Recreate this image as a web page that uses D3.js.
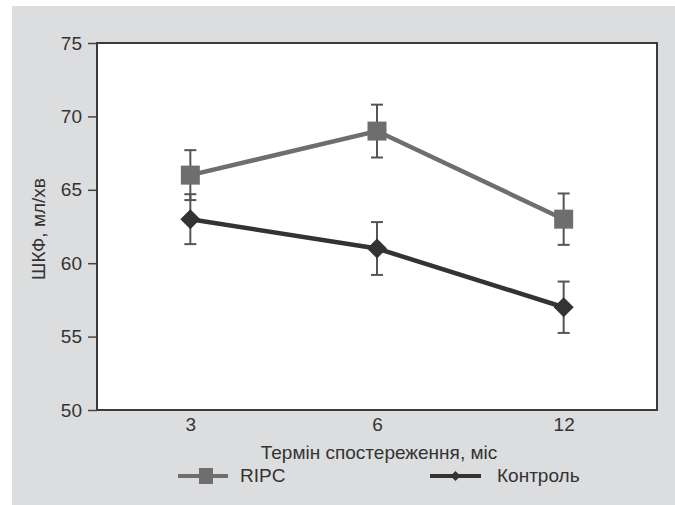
<!DOCTYPE html>
<html>
<head>
<meta charset="utf-8">
<script src="https://cdn.jsdelivr.net/npm/d3@7"></script>
<style>
  body { margin: 0; background: #fff; }
  svg { display: block; font-family: "Liberation Sans", Arial, sans-serif; }
</style>
</head>
<body>
<div id="vis"></div>
<script>
const months = ["3", "6", "12"];
const ripc = [66, 69, 63];
const ripcErr = [1.7, 1.8, 1.75];
const control = [63, 61, 57];
const controlErr = [1.7, 1.8, 1.75];
const yTicks = [50, 55, 60, 65, 70, 75];

const W = 675, H = 505;
const margin = { top: 43, right: 18, bottom: 95, left: 97 };
const width = W - margin.left - margin.right;
const height = H - margin.top - margin.bottom;
const fs = 19;

const root = d3.select("#vis").append("svg").attr("width", W).attr("height", H);

// grey panel
root.append("rect").attr("x", 12).attr("y", 6).attr("width", W - 12).attr("height", H - 6)
  .attr("fill", "#dcdddf");

const svg = root.append("g").attr("transform", `translate(${margin.left},${margin.top})`);

svg.append("rect").attr("width", width).attr("height", height).attr("fill", "#fff");

const xScale = d3.scalePoint().domain(months).range([0, width]).padding(0.5);
const yScale = d3.scaleLinear().domain([50, 75]).range([height, 0]);

const yAxis = svg.append("g").call(
  d3.axisLeft(yScale).tickValues(yTicks).tickSize(9).tickPadding(6)
);
yAxis.select(".domain").remove();
yAxis.selectAll("line").attr("stroke", "#444").attr("stroke-width", 1.5);
yAxis.selectAll("text").attr("font-size", fs).attr("fill", "#333")
  .attr("font-family", "Liberation Sans, Arial, sans-serif");

const xAxis = svg.append("g").attr("transform", `translate(0,${height})`).call(
  d3.axisBottom(xScale).tickSize(0).tickPadding(8)
);
xAxis.select(".domain").remove();
xAxis.selectAll("text").attr("font-size", fs).attr("fill", "#333")
  .attr("font-family", "Liberation Sans, Arial, sans-serif");

// frame
svg.append("rect").attr("width", width).attr("height", height)
  .attr("fill", "none").attr("stroke", "#3a3a3a").attr("stroke-width", 2);

const series = [
  { name: "RIPC", values: ripc, err: ripcErr, color: "#6e6e6e", marker: "square" },
  { name: "Контроль", values: control, err: controlErr, color: "#333333", marker: "diamond" },
];

const line = d3.line().x((d) => xScale(d.m)).y((d) => yScale(d.v));

series.forEach((s) => {
  const pts = months.map((m, i) => ({ m, v: s.values[i], e: s.err[i] }));
  const g = svg.append("g");

  // error bars
  pts.forEach((d) => {
    const x = xScale(d.m);
    const y1 = yScale(d.v + d.e), y2 = yScale(d.v - d.e);
    g.append("line").attr("x1", x).attr("x2", x).attr("y1", y1).attr("y2", y2)
      .attr("stroke", "#555").attr("stroke-width", 2);
    [y1, y2].forEach((y) =>
      g.append("line").attr("x1", x - 6).attr("x2", x + 6).attr("y1", y).attr("y2", y)
        .attr("stroke", "#555").attr("stroke-width", 2)
    );
  });

  g.append("path").datum(pts).attr("d", line).attr("fill", "none")
    .attr("stroke", s.color).attr("stroke-width", 4.5);

  if (s.marker === "square") {
    g.selectAll(".m").data(pts).join("rect")
      .attr("x", (d) => xScale(d.m) - 9.5).attr("y", (d) => yScale(d.v) - 9.5)
      .attr("width", 19).attr("height", 19).attr("fill", s.color);
  } else {
    g.selectAll(".m").data(pts).join("path")
      .attr("d", (d) => {
        const x = xScale(d.m), y = yScale(d.v);
        return `M${x},${y - 10}L${x + 10},${y}L${x},${y + 10}L${x - 10},${y}Z`;
      })
      .attr("fill", s.color);
  }
});

// axis titles
svg.append("text")
  .attr("x", width / 2 + 2).attr("y", height + 49)
  .attr("text-anchor", "middle").attr("font-size", fs).attr("fill", "#333")
  .text("Термін спостереження, міс");

root.append("text")
  .attr("transform", `translate(45,229) rotate(-90)`)
  .attr("text-anchor", "middle").attr("font-size", fs).attr("fill", "#333")
  .text("ШКФ, мл/хв");

// legend
const legY = 476;
const leg = root.append("g");
leg.append("line").attr("x1", 178).attr("x2", 228).attr("y1", legY).attr("y2", legY)
  .attr("stroke", "#6e6e6e").attr("stroke-width", 4);
leg.append("rect").attr("x", 199).attr("y", legY - 8).attr("width", 14).attr("height", 16)
  .attr("fill", "#6e6e6e");
leg.append("text").attr("x", 240).attr("y", legY + 6).attr("font-size", fs).attr("fill", "#333")
  .text("RIPC");

leg.append("line").attr("x1", 430).attr("x2", 481).attr("y1", legY).attr("y2", legY)
  .attr("stroke", "#333", ).attr("stroke-width", 4);
leg.append("path")
  .attr("d", `M455.5,${legY - 5}L460.5,${legY}L455.5,${legY + 5}L450.5,${legY}Z`)
  .attr("fill", "#333");
leg.append("text").attr("x", 497).attr("y", legY + 6).attr("font-size", fs).attr("fill", "#333")
  .text("Контроль");
</script>
</body>
</html>
